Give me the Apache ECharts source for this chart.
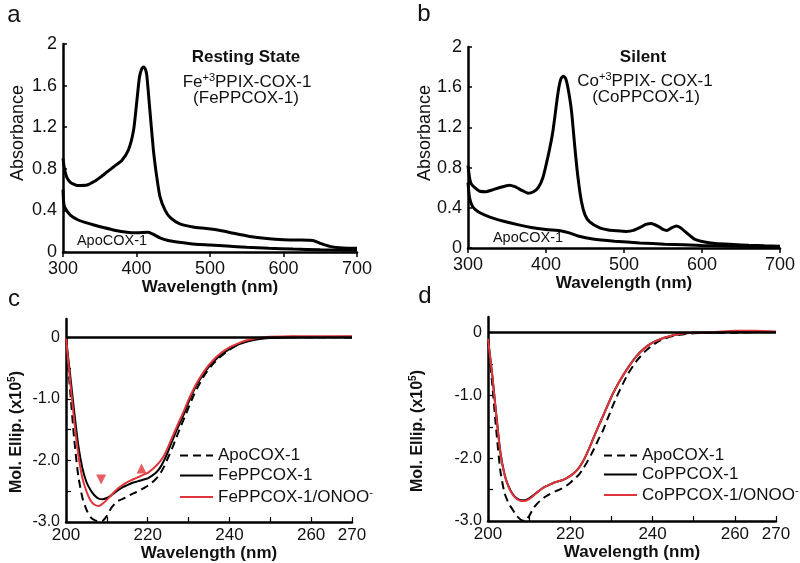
<!DOCTYPE html>
<html>
<head>
<meta charset="utf-8">
<script src="https://cdn.jsdelivr.net/npm/echarts@6/dist/echarts.min.js"></script>
<style>html,body{margin:0;padding:0;background:#fff;}#chart{width:800px;height:563px;}</style>
</head>
<body>
<div id="chart"></div>
<script>
// ---------- Data (wavelength nm, value) ----------
// Panel a: UV-Vis, resting state
const aFePPCOX1 = [[300,0.9],[302,0.8],[305,0.72],[310,0.67],[319,0.64],[333,0.645],[343,0.68],[351,0.72],[360,0.77],[369,0.82],[380,0.88],[389,0.98],[396,1.17],[400,1.42],[404,1.68],[407,1.76],[409.5,1.78],[412,1.76],[414,1.7],[418,1.38],[423,0.98],[427.6,0.72],[432,0.53],[439,0.4],[446,0.33],[459,0.27],[477,0.24],[495,0.226],[514,0.207],[532,0.18],[554,0.15],[577,0.13],[600,0.118],[622,0.115],[640,0.11],[649,0.086],[663,0.054],[681,0.038],[700,0.035]];
const aApoCOX1 = [[300,0.6],[301,0.47],[303,0.42],[310,0.355],[320,0.31],[330,0.285],[342,0.26],[355,0.235],[370,0.21],[387,0.19],[400,0.185],[416,0.19],[423,0.17],[432,0.135],[443,0.11],[455,0.097],[480,0.075],[500,0.068],[523,0.058],[550,0.045],[580,0.035],[613,0.028],[650,0.022],[700,0.018]];
// Panel b: UV-Vis, silent
const bCoPPCOX1 = [[300,0.82],[302,0.7],[304,0.64],[308.6,0.6],[315,0.565],[323,0.56],[330,0.575],[340,0.6],[353,0.625],[360,0.61],[370,0.57],[377,0.545],[384,0.56],[390,0.6],[396,0.7],[400.5,0.84],[405,1.0],[409,1.17],[415.5,1.55],[419,1.68],[422,1.71],[425,1.69],[428,1.6],[432.6,1.37],[437,1.0],[441,0.7],[445.5,0.46],[450,0.33],[456,0.26],[469,0.2],[480,0.18],[490,0.172],[503,0.165],[512,0.175],[522,0.21],[528,0.235],[535,0.245],[544,0.215],[550,0.185],[555,0.175],[561,0.2],[567,0.22],[572,0.205],[578,0.165],[585,0.12],[591,0.085],[600,0.065],[617,0.045],[640,0.035],[660,0.027],[680,0.022],[700,0.018]];
const bApoCOX1 = [[300,0.65],[302,0.5],[306,0.41],[313,0.36],[321,0.33],[333,0.295],[347,0.264],[365,0.23],[381,0.205],[400,0.185],[420,0.17],[430,0.15],[441,0.12],[460,0.09],[488,0.068],[520,0.05],[552,0.038],[600,0.025],[638,0.018],[700,0.012]];
// Panel c: CD, FePPCOX-1
const cApo = [[200,0],[201,-0.85],[202,-1.65],[203,-2.25],[204,-2.6],[205,-2.8],[206,-2.92],[207,-2.97],[208,-2.99],[209,-2.98],[210,-2.9],[211,-2.78],[212,-2.7],[213,-2.65],[214,-2.62],[215,-2.59],[216,-2.55],[217,-2.52],[218,-2.49],[219,-2.45],[220,-2.41],[221,-2.36],[222,-2.3],[223,-2.22],[224,-2.1],[225,-1.95],[226,-1.8],[227,-1.63],[228,-1.46],[229,-1.3],[230,-1.14],[231,-0.98],[232,-0.84],[234,-0.6],[236,-0.43],[238,-0.3],[240,-0.2],[242,-0.12],[244,-0.07],[246,-0.03],[248,-0.01],[250,0],[255,0.01],[260,0.005],[270,0]];
const cFe = [[200,0],[201,-0.6],[202,-1.2],[203,-1.75],[204,-2.12],[205,-2.35],[206,-2.48],[207,-2.57],[208,-2.62],[209,-2.63],[210,-2.61],[211,-2.57],[212,-2.52],[213,-2.47],[214,-2.43],[215,-2.4],[216,-2.37],[217,-2.35],[218,-2.33],[219,-2.31],[220,-2.29],[221,-2.25],[222,-2.2],[223,-2.12],[224,-2.0],[225,-1.85],[226,-1.68],[227,-1.52],[228,-1.37],[229,-1.22],[230,-1.05],[231,-0.9],[232,-0.77],[234,-0.56],[236,-0.4],[238,-0.28],[240,-0.19],[242,-0.12],[244,-0.07],[246,-0.04],[248,-0.02],[250,-0.01],[255,0],[260,0.005],[270,0.01]];
const cFeOnoo = [[200,0],[201,-0.7],[202,-1.35],[203,-1.9],[204,-2.28],[205,-2.5],[206,-2.65],[207,-2.72],[208,-2.74],[209,-2.7],[210,-2.64],[211,-2.57],[212,-2.5],[213,-2.44],[214,-2.39],[215,-2.35],[216,-2.32],[217,-2.29],[218,-2.26],[219,-2.23],[220,-2.2],[221,-2.15],[222,-2.09],[223,-2.02],[224,-1.92],[225,-1.78],[226,-1.62],[227,-1.47],[228,-1.32],[229,-1.17],[230,-1.01],[231,-0.87],[232,-0.74],[234,-0.53],[236,-0.37],[238,-0.25],[240,-0.16],[242,-0.1],[244,-0.05],[246,-0.02],[248,0],[250,0.01],[255,0.02],[260,0.02],[270,0.02]];
const cMarkDown = [[208.6,-2.31]];
const cMarkUp = [[218.5,-2.13]];
// Panel d: CD, CoPPCOX-1
const dApo = [[200,-0.1],[201,-0.8],[202,-1.55],[203,-2.2],[204,-2.55],[205,-2.72],[206,-2.82],[207,-2.92],[208,-2.98],[209,-3.0],[210,-2.92],[211,-2.8],[212,-2.72],[213,-2.66],[214,-2.61],[215,-2.57],[216,-2.54],[217,-2.51],[218,-2.48],[219,-2.44],[220,-2.39],[221,-2.33],[222,-2.27],[223,-2.18],[224,-2.07],[225,-1.95],[226,-1.82],[227,-1.68],[228,-1.55],[229,-1.38],[230,-1.22],[231,-1.06],[232,-0.92],[234,-0.66],[236,-0.46],[238,-0.31],[240,-0.2],[242,-0.12],[244,-0.07],[246,-0.04],[248,-0.02],[250,-0.01],[255,0],[260,0],[265,0.01],[270,0.01]];
const dCo = [[200,-0.1],[201,-0.65],[202,-1.3],[203,-1.9],[204,-2.25],[205,-2.45],[206,-2.57],[207,-2.64],[208,-2.67],[209,-2.67],[210,-2.64],[211,-2.59],[212,-2.54],[213,-2.49],[214,-2.45],[215,-2.42],[216,-2.39],[217,-2.37],[218,-2.35],[219,-2.32],[220,-2.28],[221,-2.23],[222,-2.16],[223,-2.06],[224,-1.93],[225,-1.78],[226,-1.62],[227,-1.47],[228,-1.32],[229,-1.17],[230,-1.02],[231,-0.89],[232,-0.77],[234,-0.56],[236,-0.38],[238,-0.25],[240,-0.16],[242,-0.1],[244,-0.06],[246,-0.03],[248,-0.01],[250,0],[255,0],[260,0.02],[265,0.02],[270,0.01]];
const dCoOnoo = [[200,-0.1],[201,-0.66],[202,-1.31],[203,-1.91],[204,-2.26],[205,-2.46],[206,-2.58],[207,-2.65],[208,-2.68],[209,-2.68],[210,-2.65],[211,-2.6],[212,-2.54],[213,-2.49],[214,-2.45],[215,-2.42],[216,-2.39],[217,-2.37],[218,-2.35],[219,-2.32],[220,-2.28],[221,-2.23],[222,-2.16],[223,-2.06],[224,-1.93],[225,-1.78],[226,-1.62],[227,-1.47],[228,-1.32],[229,-1.17],[230,-1.02],[231,-0.89],[232,-0.77],[234,-0.56],[236,-0.38],[238,-0.25],[240,-0.16],[242,-0.1],[244,-0.06],[246,-0.03],[248,-0.01],[250,0],[255,0.01],[260,0.03],[265,0.03],[270,0.02]];
const cdXLabels = [200, 220, 240, 260, 270];

// ---------- Chart ----------
const FONT = '"Liberation Sans", Arial, sans-serif';
const RED = '#e0353b';
const chart = echarts.init(document.getElementById('chart'), null, {renderer: 'canvas'});

const axisLine = {show: true, onZero: false, lineStyle: {color: '#000', width: 2.5}};

function uvX(grid) {
  return {type: 'value', gridIndex: grid, min: 300, max: 700, interval: 100,
    axisLine: axisLine, splitLine: {show: false},
    axisTick: {show: true, inside: false, length: 5, lineStyle: {color: '#000', width: 1.5}},
    axisLabel: {color: '#111', fontSize: 18, fontFamily: FONT, margin: 8},
    name: 'Wavelength (nm)', nameLocation: 'middle', nameGap: 27,
    nameTextStyle: {color: '#111', fontSize: 17, fontWeight: 'bold', fontFamily: FONT}};
}
function uvY(grid) {
  return {type: 'value', gridIndex: grid, min: 0, max: 2, interval: 0.4,
    axisLine: axisLine, splitLine: {show: false},
    axisTick: {show: true, inside: true, length: 4, lineStyle: {color: '#000', width: 1.5}},
    axisLabel: {color: '#111', fontSize: 18, fontFamily: FONT, margin: 6}};
}
function cdX(grid) {
  return {type: 'value', gridIndex: grid, min: 200, max: 270, interval: 10,
    axisLine: axisLine, splitLine: {show: false},
    axisTick: {show: true, inside: true, length: 5, lineStyle: {color: '#000', width: 1.2}},
    axisLabel: {color: '#111', fontSize: 17, fontFamily: FONT, margin: 5,
      formatter: v => cdXLabels.indexOf(v) >= 0 ? String(v) : ''},
    name: 'Wavelength (nm)', nameLocation: 'middle', nameGap: 19,
    nameTextStyle: {color: '#111', fontSize: 17, fontWeight: 'bold', fontFamily: FONT}};
}
function cdY(grid, max) {
  return {type: 'value', gridIndex: grid, min: -3, max: max, interval: 0.5,
    axisLine: axisLine, splitLine: {show: false},
    axisTick: {show: true, inside: true, length: 5, lineStyle: {color: '#000', width: 1.2}},
    axisLabel: {color: '#111', fontSize: 16, fontFamily: FONT, margin: 6, showMaxLabel: false,
      formatter: v => (Math.abs(v - Math.round(v)) < 1e-9 && v <= 0) ? (v === 0 ? '0' : v.toFixed(1)) : ''}};
}
function line(name, x, y, data, color, width, type) {
  return {name: name, type: 'line', xAxisIndex: x, yAxisIndex: y, data: data,
    showSymbol: false, symbol: 'none', smooth: 0.2, silent: true,
    lineStyle: {color: color, width: width, type: type || 'solid'},
    itemStyle: {color: color}};
}
const zeroMark = {silent: true, symbol: 'none', label: {show: false},
  lineStyle: {color: '#000', width: 2.5, type: 'solid'}, data: [{yAxis: 0}]};

const richLegend = {
  n: {fontSize: 17, lineHeight: 20, color: '#111', fontFamily: FONT},
  s: {fontSize: 11, lineHeight: 12, color: '#111', fontFamily: FONT, verticalAlign: 'top'}
};
const legendFmt = name => name.endsWith('⁻') ? '{n|' + name.slice(0, -1) + '}{s|-}' : '{n|' + name + '}';

const txt = (t, x, y, size, bold, extra) => Object.assign({type: 'text', x: x, y: y, silent: true,
  style: {text: t, fill: '#111', font: (bold ? 'bold ' : '') + size + 'px ' + FONT,
    textAlign: 'center', textVerticalAlign: 'middle', align: 'center', verticalAlign: 'middle'}}, extra || {});
const richTxt = (t, x, y, rich, extra) => Object.assign({type: 'text', x: x, y: y, silent: true,
  style: {text: t, rich: rich, fill: '#111', textAlign: 'center', textVerticalAlign: 'middle', align: 'center', verticalAlign: 'middle'}}, extra || {});

const supRich = {
  n: {fontSize: 17, lineHeight: 20, fontFamily: FONT, color: '#111'},
  s: {fontSize: 11, lineHeight: 12, fontFamily: FONT, color: '#111', verticalAlign: 'top'}
};
const supRichBold = {
  n: {fontSize: 16, lineHeight: 20, fontFamily: FONT, fontWeight: 'bold', color: '#111'},
  s: {fontSize: 10, lineHeight: 11, fontFamily: FONT, fontWeight: 'bold', color: '#111', verticalAlign: 'top'}
};

const legendBase = {orient: 'vertical', itemWidth: 33, itemHeight: 2, selectedMode: false,
  itemStyle: {opacity: 0}, textStyle: {rich: richLegend}};

const option = {
  backgroundColor: '#fff',
  animation: false,
  grid: [
    {left: 63, top: 44, width: 294, height: 208},
    {left: 468, top: 47, width: 312, height: 201},
    {left: 66, top: 319, width: 286, height: 203},
    {left: 488, top: 317, width: 288, height: 204}
  ],
  xAxis: [uvX(0), uvX(1), cdX(2), cdX(3)],
  yAxis: [uvY(0), uvY(1), cdY(2, 0.3), cdY(3, 0.25)],
  legend: [
    Object.assign({}, legendBase, {left: 174, top: 442, itemGap: 3,
      data: ['ApoCOX-1', 'FePPCOX-1', 'FePPCOX-1/ONOO⁻'], formatter: legendFmt}),
    Object.assign({}, legendBase, {left: 598, top: 442, itemGap: 2,
      data: ['ApoCOX-1 ', 'CoPPCOX-1', 'CoPPCOX-1/ONOO⁻'], formatter: n => legendFmt(n.trim())})
  ],
  series: [
    line('FePPCOX-1 UV-Vis', 0, 0, aFePPCOX1, '#000', 3),
    line('ApoCOX-1 UV-Vis a', 0, 0, aApoCOX1, '#000', 3),
    line('CoPPCOX-1 UV-Vis', 1, 1, bCoPPCOX1, '#000', 3),
    line('ApoCOX-1 UV-Vis b', 1, 1, bApoCOX1, '#000', 3),
    Object.assign(line('ApoCOX-1', 2, 2, cApo, '#000', 2, [8, 5]), {markLine: zeroMark}),
    line('FePPCOX-1', 2, 2, cFe, '#000', 2),
    line('FePPCOX-1/ONOO⁻', 2, 2, cFeOnoo, RED, 2),
    {type: 'scatter', name: 'mark down', xAxisIndex: 2, yAxisIndex: 2, data: cMarkDown, symbol: 'triangle', symbolRotate: 180, symbolSize: 10, itemStyle: {color: RED}, silent: true},
    {type: 'scatter', name: 'mark up', xAxisIndex: 2, yAxisIndex: 2, data: cMarkUp, symbol: 'triangle', symbolSize: 10, itemStyle: {color: RED}, silent: true},
    Object.assign(line('ApoCOX-1 ', 3, 3, dApo, '#000', 2, [8, 5]), {markLine: zeroMark}),
    line('CoPPCOX-1', 3, 3, dCo, '#000', 2),
    line('CoPPCOX-1/ONOO⁻', 3, 3, dCoOnoo, RED, 2)
  ],
  graphic: [
    txt('a', 14, 15, 24, false),
    txt('b', 424, 14, 24, false),
    txt('c', 14, 299, 24, false),
    txt('d', 425, 296, 24, false),
    txt('Absorbance', 18, 133, 18, false, {rotation: Math.PI / 2}),
    txt('Absorbance', 425, 133, 18, false, {rotation: Math.PI / 2}),
    richTxt('{n|Mol. Ellip. (x10}{s|5}{n|)}', 17, 432, supRichBold, {rotation: Math.PI / 2}),
    richTxt('{n|Mol. Ellip. (x10}{s|5}{n|)}', 418, 431, supRichBold, {rotation: Math.PI / 2}),
    txt('Resting State', 246, 57, 17, true),
    richTxt('{n|Fe}{s|+3}{n|PPIX-COX-1}', 247, 82, supRich),
    txt('(FePPCOX-1)', 246, 98, 17, false),
    txt('ApoCOX-1', 112, 241, 14.5, false),
    txt('Silent', 643, 57, 17, true),
    richTxt('{n|Co}{s|+3}{n|PPIX- COX-1}', 645, 81, supRich),
    txt('(CoPPCOX-1)', 646, 97, 17, false),
    txt('ApoCOX-1', 528, 238, 14.5, false)
  ]
};
chart.setOption(option);
</script>
</body>
</html>
